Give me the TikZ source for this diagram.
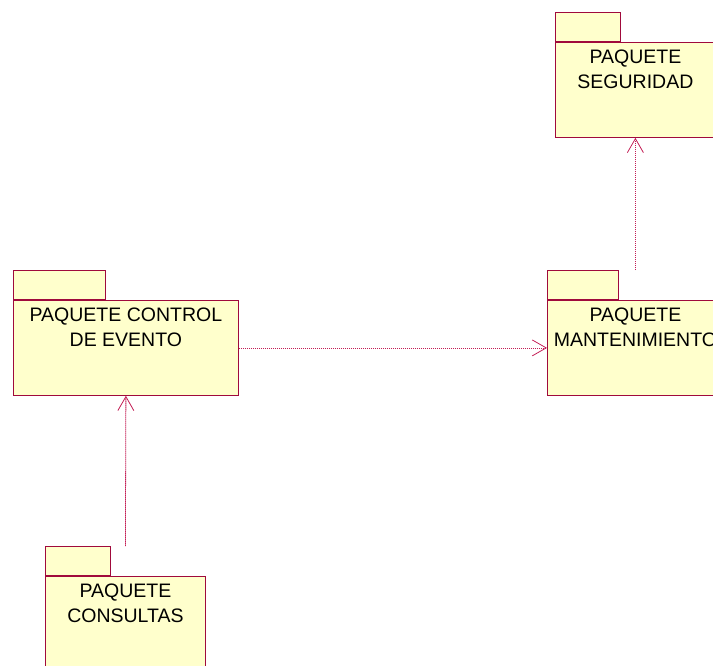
\documentclass[tikz,border=0pt]{standalone}
\usepackage{fontspec}
\setmainfont{Liberation Sans}
\usetikzlibrary{arrows.meta}
\definecolor{pkgline}{RGB}{160,10,60}
\definecolor{depline}{RGB}{195,30,85}
\definecolor{pkgfill}{RGB}{255,255,204}
\tikzset{
  pkgbody/.style={draw=pkgline, fill=pkgfill, line width=0.8pt, inner sep=0pt, anchor=north west},
  pkgtab/.style={pkgbody, anchor=south west},
  pkgtext/.style={font=\fontsize{19.5}{25}\selectfont, align=center, anchor=north, inner sep=0pt},
  dep/.style={draw=depline, line width=0.8pt, dash pattern=on 1.5pt off 0.5pt,
    -{Straight Barb[length=14pt,width=16pt,line width=0.8pt]}}
}
\begin{document}
\begin{tikzpicture}[x=1pt,y=-1pt]
  \useasboundingbox (0,0) rectangle (713,666);
  \clip (0,0) rectangle (713,666);

  % package bodies and their tabs
  \node[pkgbody, minimum width=160pt, minimum height=95pt] (seg) at (555,42) {};
  \node[pkgtab, minimum width=65pt, minimum height=29pt] (segtab) at (seg.north west) {};
  \node[pkgbody, minimum width=225pt, minimum height=95pt] (ctl) at (13,300) {};
  \node[pkgtab, minimum width=92pt, minimum height=29pt] (ctltab) at (ctl.north west) {};
  \node[pkgbody, minimum width=176pt, minimum height=95pt] (man) at (547,300) {};
  \node[pkgtab, minimum width=71pt, minimum height=29pt] (mantab) at (man.north west) {};
  \node[pkgbody, minimum width=160pt, minimum height=95pt] (con) at (45,576) {};
  \node[pkgtab, minimum width=65pt, minimum height=29pt] (contab) at (con.north west) {};

  % package names
  \node[pkgtext] (segname) at ([yshift=-8pt]seg.north) {PAQUETE\\SEGURIDAD};
  \node[pkgtext] (ctlname) at ([yshift=-8pt]ctl.north) {PAQUETE CONTROL\\DE EVENTO};
  \node[pkgtext] (manname) at ([yshift=-8pt]man.north) {PAQUETE\\MANTENIMIENTO};
  \node[pkgtext] (conname) at ([yshift=-8pt]con.north) {PAQUETE\\CONSULTAS};

  % dependencies
  \draw[dep] (man.north |- mantab.north) -- (seg.south);
  \draw[dep] (ctl.east) -- (man.west);
  \draw[dep] (con.north |- contab.north) -- (ctl.south);
\end{tikzpicture}
\end{document}
